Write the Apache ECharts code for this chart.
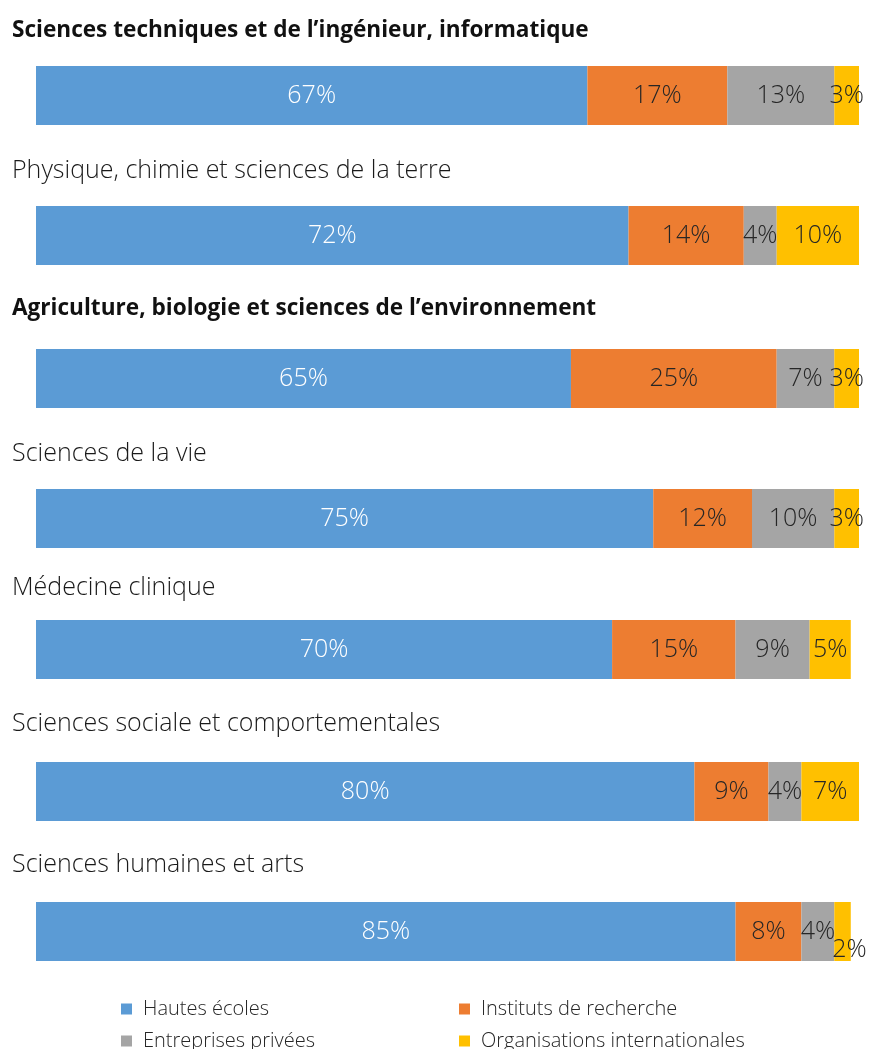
<!DOCTYPE html>
<html>
<head>
<meta charset="utf-8">
<script src="https://cdn.jsdelivr.net/npm/echarts@6/dist/echarts.min.js"></script>
<style>
  html, body { margin: 0; padding: 0; background: #fff; }
  #chart { width: 870px; height: 1049px; }
</style>
</head>
<body>
<div id="chart"></div>
<script>
// Domain titles, one per bar
const categories = [
  'Sciences techniques et de l’ingénieur, informatique',
  'Physique, chimie et sciences de la terre',
  'Agriculture, biologie et sciences de l’environnement',
  'Sciences de la vie',
  'Médecine clinique',
  'Sciences sociale et comportementales',
  'Sciences humaines et arts'
];
// Group headings are shown in bold
const boldTitle = [true, false, true, false, false, false, false];

// Share of partners (%) per domain
const seriesNames = ['Hautes écoles', 'Instituts de recherche', 'Entreprises privées', 'Organisations internationales'];
const hautesEcoles = [67, 72, 65, 75, 70, 80, 85];
const institutsRecherche = [17, 14, 25, 12, 15, 9, 8];
const entreprisesPrivees = [13, 4, 7, 10, 9, 4, 4];
const organisationsInternationales = [3, 10, 3, 3, 5, 7, 2];

const seriesValues = [hautesEcoles, institutsRecherche, entreprisesPrivees, organisationsInternationales];
const colors = ['#5B9BD5', '#ED7D31', '#A5A5A5', '#FFC000'];
const labelColors = ['#ffffff', '#262626', '#262626', '#262626'];

// Layout: top of each bar and of each heading
const barTops = [66, 206, 349, 489, 620, 762, 902];
const titleTops = [19, 158, 297.5, 441, 575, 711, 852];
const barHeight = 59;
const FONT = '"Open Sans", "Noto Sans", sans-serif';

const grids = [], xAxes = [], yAxes = [], series = [], titles = [];
categories.forEach((cat, i) => {
  grids.push({ left: 36, right: 11, top: barTops[i], height: barHeight });
  xAxes.push({ gridIndex: i, type: 'value', min: 0, max: 100, show: false });
  yAxes.push({ gridIndex: i, type: 'category', data: [cat], show: false });
  titles.push({
    text: cat, left: 12, top: titleTops[i], padding: 0,
    textStyle: boldTitle[i]
      ? { fontFamily: FONT, fontSize: 22.6, fontWeight: 'bold', color: '#111111' }
      : { fontFamily: FONT, fontSize: 25, fontWeight: 300, color: '#1a1a1a' }
  });
  seriesValues.forEach((vals, s) => {
    const item = { value: vals[i] };
    // small last segment of the final bar: label pushed below to avoid overlap
    if (i === 6 && s === 3) item.label = { offset: [7, 18] };
    series.push({
      name: seriesNames[s],
      type: 'bar',
      stack: 'row' + i,
      xAxisIndex: i, yAxisIndex: i,
      barWidth: barHeight,
      itemStyle: { color: colors[s] },
      label: {
        show: true, position: 'inside',
        formatter: p => p.value + '%',
        fontFamily: FONT, fontSize: 25, fontWeight: 300,
        color: labelColors[s], textBorderWidth: 0
      },
      silent: true,
      animation: false,
      data: [item]
    });
  });
});

const legendText = { fontFamily: FONT, fontSize: 20, fontWeight: 300, color: '#262626', padding: [0, 0, 0, 6] };
const legendBase = {
  orient: 'vertical', top: 999, height: 80, padding: 0,
  icon: 'rect', itemWidth: 11, itemHeight: 11, itemGap: 12, textStyle: legendText
};
const option = {
  backgroundColor: '#ffffff',
  animation: false,
  title: titles,
  legend: [
    Object.assign({ data: [seriesNames[0], seriesNames[2]], left: 121 }, legendBase),
    Object.assign({ data: [seriesNames[1], seriesNames[3]], left: 459 }, legendBase)
  ],
  grid: grids,
  xAxis: xAxes,
  yAxis: yAxes,
  series: series
};

echarts.init(document.getElementById('chart'), null, { renderer: 'canvas' }).setOption(option);
</script>
</body>
</html>
